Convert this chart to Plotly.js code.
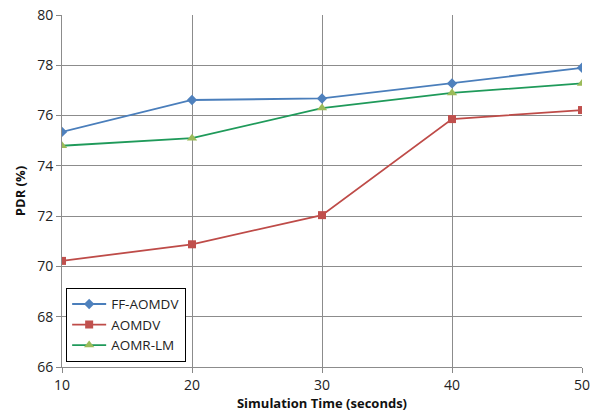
<!DOCTYPE html>
<html><head><meta charset="utf-8">
<script src="https://cdn.plot.ly/plotly-3.0.1.min.js"></script>
<style>html,body{margin:0;padding:0;background:#fff}#chart{width:592px;height:413px}</style>
</head><body><div id="chart"></div>
<script>
const simTime = [10, 20, 30, 40, 50];
const ffAomdv = [75.35, 76.62, 76.68, 77.28, 77.9];
const aomdv = [70.22, 70.88, 72.04, 75.86, 76.22];
const aomrLm = [74.8, 75.1, 76.3, 76.9, 77.28];
const seriesNames = ["FF-AOMDV", "AOMDV", "AOMR-LM"];

const traces = [
  {x: simTime, y: ffAomdv, name: seriesNames[0], mode: 'lines+markers',
   line: {color: '#4a7ebb', width: 1.8}, marker: {symbol: 'diamond', size: 8, color: '#4f81bd'}},
  {x: simTime, y: aomdv, name: seriesNames[1], mode: 'lines+markers',
   line: {color: '#be4b48', width: 1.8}, marker: {symbol: 'square', size: 8, color: '#c0504d'}},
  {x: simTime, y: aomrLm, name: seriesNames[2], mode: 'lines+markers',
   line: {color: '#1f9a5a', width: 1.8}, marker: {symbol: 'triangle-up', size: 9, color: '#9bbb59'}}
];

const layout = {
  width: 592, height: 413,
  margin: {l: 62, r: 10, t: 15, b: 46},
  paper_bgcolor: '#fff', plot_bgcolor: '#fff',
  font: {family: '"Open Sans", Lato, sans-serif', color: '#222', size: 14},
  showlegend: true,
  legend: {x: 0.008, y: 0.015, xanchor: 'left', yanchor: 'bottom',
    bordercolor: '#000', borderwidth: 1, bgcolor: '#fff',
    font: {size: 13.5, color: '#222'}, tracegroupgap: 0, itemwidth: 34},
  xaxis: {range: [10, 50], tickvals: simTime, ticks: 'outside', ticklen: 5, tickcolor: '#888',
    showgrid: true, gridcolor: '#8c8c8c', gridwidth: 1, showline: true, linecolor: '#8c8c8c',
    zeroline: false, fixedrange: true,
    title: {text: '<b>Simulation Time (seconds)</b>', font: {size: 13, color: '#111'}, standoff: 6}},
  yaxis: {range: [66, 80], dtick: 2, ticks: 'outside', ticklen: 5, tickcolor: '#888',
    showgrid: true, gridcolor: '#8c8c8c', gridwidth: 1, showline: true, linecolor: '#8c8c8c',
    zeroline: false, fixedrange: true,
    title: {text: '<b>PDR (%)</b>', font: {size: 13, color: '#111'}, standoff: 8}}
};
Plotly.newPlot('chart', traces, layout, {displayModeBar: false, staticPlot: true});
</script></body></html>
